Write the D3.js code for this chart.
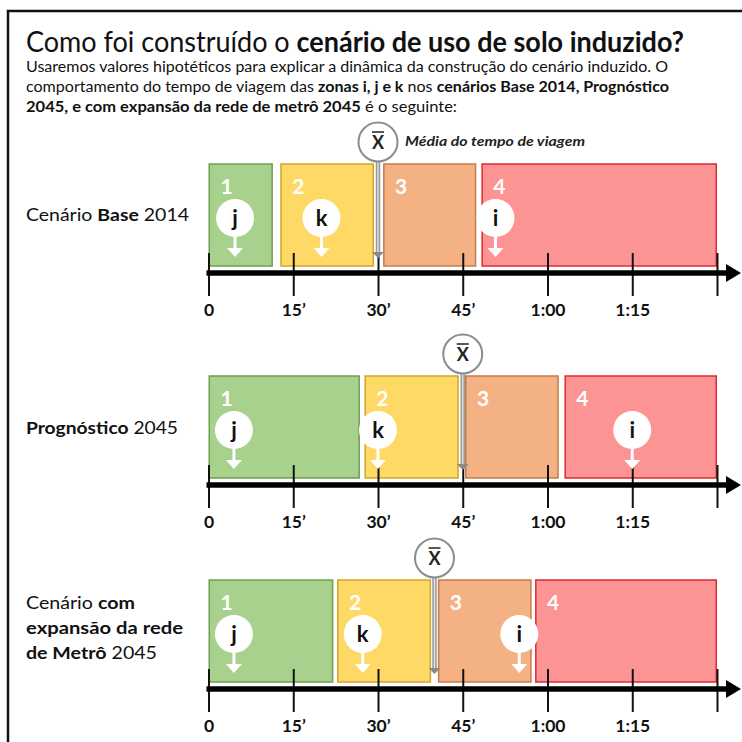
<!DOCTYPE html>
<html lang="pt">
<head>
<meta charset="UTF-8">
<title>Cenário de uso de solo induzido</title>
<script src="https://cdnjs.cloudflare.com/ajax/libs/d3/7.8.5/d3.min.js"></script>
<style>
  body { margin: 0; background: #fff; }
  svg { font-family: Lato, "Open Sans", sans-serif; }
</style>
</head>
<body>
<svg width="742" height="742" id="canvas"></svg>
<script>
// travel time data (minutes)
const scenarioNames = ["Base 2014", "Prognóstico 2045", "Expansão da rede de Metrô 2045"];
const zoneNames = ["1", "2", "3", "4"];
const zoneStart = [[0, 12.7, 30.9, 48.3], [0, 27.6, 45.4, 63], [0, 22.75, 40.6, 57.8]];
const zoneEnd = [[11.4, 29.3, 47.4, 90], [26.8, 44.3, 62, 90], [22.1, 39.4, 57.2, 90]];
const meanTime = [30, 45, 40];
const zoneLetters = ["j", "k", "i"];
const letterTime = [[4.7, 20, 50.8], [4.5, 30, 75], [4.5, 27.3, 55]];
const tickValues = [0, 15, 30, 45, 60, 75, 90];
const tickLabels = ["0", "15’", "30’", "45’", "1:00", "1:15", ""];

const fills = ["#a9d18e", "#fed966", "#f4b183", "#fc9494"];
const strokes = ["#6f9e4e", "#d2a52c", "#c47c4c", "#e0282f"];

const svg = d3.select("#canvas");
const axisY = [273, 485, 689];

const x = d3.scaleLinear().domain([0, 90]).range([208.5, 717]);

// frame
svg.append("rect").attr("x", 8).attr("y", 11).attr("width", 760).attr("height", 760)
  .attr("fill", "none").attr("stroke", "#111").attr("stroke-width", 2.5);

// title + intro
function fitText(sel, w) {
  sel.attr("textLength", w).attr("lengthAdjust", "spacingAndGlyphs");
}
const title = svg.append("text").attr("x", 26).attr("y", 52).attr("font-size", 28).attr("fill", "#111");
title.append("tspan").text("Como foi construído o ");
title.append("tspan").attr("font-weight", "bold").text("cenário de uso de solo induzido?");
fitText(title, 658);

const introLines = [
  [["Usaremos valores hipotéticos para explicar a dinâmica da construção do cenário induzido. O", false]],
  [["comportamento do tempo de viagem das ", false], ["zonas i, j e k", true], [" nos ", false],
   ["cenários Base 2014, Prognóstico", true]],
  [["2045, e com expansão da rede de metrô 2045", true], [" é o seguinte:", false]]
];
const introWidths = [642, 643, 431];
introLines.forEach((parts, i) => {
  const t = svg.append("text").attr("x", 26).attr("y", 72 + i * 20).attr("font-size", 15.5).attr("fill", "#111");
  parts.forEach(p => t.append("tspan").attr("font-weight", p[1] ? "bold" : "normal").text(p[0]));
  fitText(t, introWidths[i]);
});

// row labels
const rowLabels = [
  [[[["Cenário ", false], ["Base", true], [" 2014", false]], 163]],
  [[[["Prognóstico", true], [" 2045", false]], 152]],
  [[[["Cenário ", false], ["com", true]], 109],
   [[["expansão da rede", true]], 157],
   [[["de Metrô", true], [" 2045", false]], 131]]
];
const rowLabelY = [[221], [434], [609, 634, 659]];
rowLabels.forEach((lines, r) => {
  lines.forEach((ln, k) => {
    const t = svg.append("text").attr("x", 26).attr("y", rowLabelY[r][k]).attr("font-size", 17.5).attr("fill", "#111");
    ln[0].forEach(p => t.append("tspan").attr("font-weight", p[1] ? "bold" : "normal").text(p[0]));
    fitText(t, ln[1]);
  });
});

scenarioNames.forEach((name, r) => {
  const ay = axisY[r];
  const g = svg.append("g").attr("class", "row row-" + r);
  const top = ay - 109, h = 102;

  // zone boxes
  const boxes = g.selectAll("g.zone").data(zoneNames).join("g").attr("class", "zone");
  boxes.append("rect")
    .attr("x", (d, i) => x(zoneStart[r][i]) + 0.75)
    .attr("y", top)
    .attr("width", (d, i) => x(zoneEnd[r][i]) - x(zoneStart[r][i]) - 1.5)
    .attr("height", h)
    .attr("fill", (d, i) => fills[i])
    .attr("stroke", (d, i) => strokes[i])
    .attr("stroke-width", 1.5);
  boxes.append("text")
    .attr("x", (d, i) => x(zoneStart[r][i]) + 18)
    .attr("y", top + 30)
    .attr("text-anchor", "middle")
    .attr("font-size", 21).attr("font-weight", "bold").attr("fill", "#fff")
    .text(d => d);

  // axis
  const axis = d3.axisBottom(x).tickValues(tickValues)
    .tickFormat((d, i) => tickLabels[i]).tickSize(23).tickPadding(4);
  const ag = g.append("g").attr("transform", `translate(0,${ay})`).call(axis);
  ag.select(".domain").remove();
  ag.selectAll(".tick line").attr("y1", -20).attr("stroke", "#111").attr("stroke-width", 2);
  ag.selectAll(".tick text").attr("font-size", 17.5).attr("font-weight", "bold")
    .attr("font-family", "Lato, sans-serif").attr("fill", "#111").attr("dy", "0.9em");

  g.append("line").attr("x1", x(0) - 2).attr("x2", 727).attr("y1", ay).attr("y2", ay)
    .attr("stroke", "#000").attr("stroke-width", 5.5);
  g.append("path").attr("d", `M726,${ay - 9}L741,${ay}L726,${ay + 9}Z`).attr("fill", "#000");

  // zone markers j, k, i
  const mk = g.selectAll("g.mk").data(zoneLetters).join("g").attr("class", "mk")
    .attr("transform", (d, i) => `translate(${x(letterTime[r][i])},${ay - 55})`);
  mk.append("line").attr("x1", 0).attr("x2", 0).attr("y1", 10).attr("y2", 31)
    .attr("stroke", "#fff").attr("stroke-width", 3);
  mk.append("path").attr("d", "M-8,30L8,30L0,39Z").attr("fill", "#fff");
  mk.append("circle").attr("r", 19).attr("fill", "#fff");
  mk.append("text").attr("y", 7.5).attr("text-anchor", "middle")
    .attr("font-size", 22).attr("font-weight", "bold").attr("fill", "#111").text(d => d);

  // mean marker
  const mx = x(meanTime[r]);
  const cy = top - 22;
  const mg = g.append("g").attr("class", "mean");
  mg.append("line").attr("x1", mx).attr("x2", mx).attr("y1", cy + 20).attr("y2", ay - 19)
    .attr("stroke", "#9a9a9a").attr("stroke-width", 4.5);
  mg.append("line").attr("x1", mx).attr("x2", mx).attr("y1", cy + 20).attr("y2", ay - 21)
    .attr("stroke", "#e6e6e6").attr("stroke-width", 1.3);
  mg.append("path").attr("d", `M${mx - 6},${ay - 21}L${mx + 6},${ay - 21}L${mx},${ay - 15}Z`).attr("fill", "#8a8a8a");
  mg.append("circle").attr("cx", mx).attr("cy", cy).attr("r", 19.5)
    .attr("fill", "#fff").attr("stroke", "#8c8c8c").attr("stroke-width", 2);
  mg.append("text").attr("x", mx).attr("y", cy + 7).attr("text-anchor", "middle")
    .attr("font-size", 18).attr("font-weight", "bold").attr("fill", "#222").text("X");
  mg.append("line").attr("x1", mx - 6).attr("x2", mx + 6).attr("y1", cy - 10).attr("y2", cy - 10)
    .attr("stroke", "#222").attr("stroke-width", 1.5);

  if (r === 0) {
    const note = mg.append("text").attr("x", mx + 27).attr("y", cy + 4)
      .attr("font-size", 14).attr("font-style", "italic").attr("font-weight", "bold")
      .attr("fill", "#222").text("Média do tempo de viagem");
    fitText(note, 180);
  }
});
</script>
</body>
</html>
